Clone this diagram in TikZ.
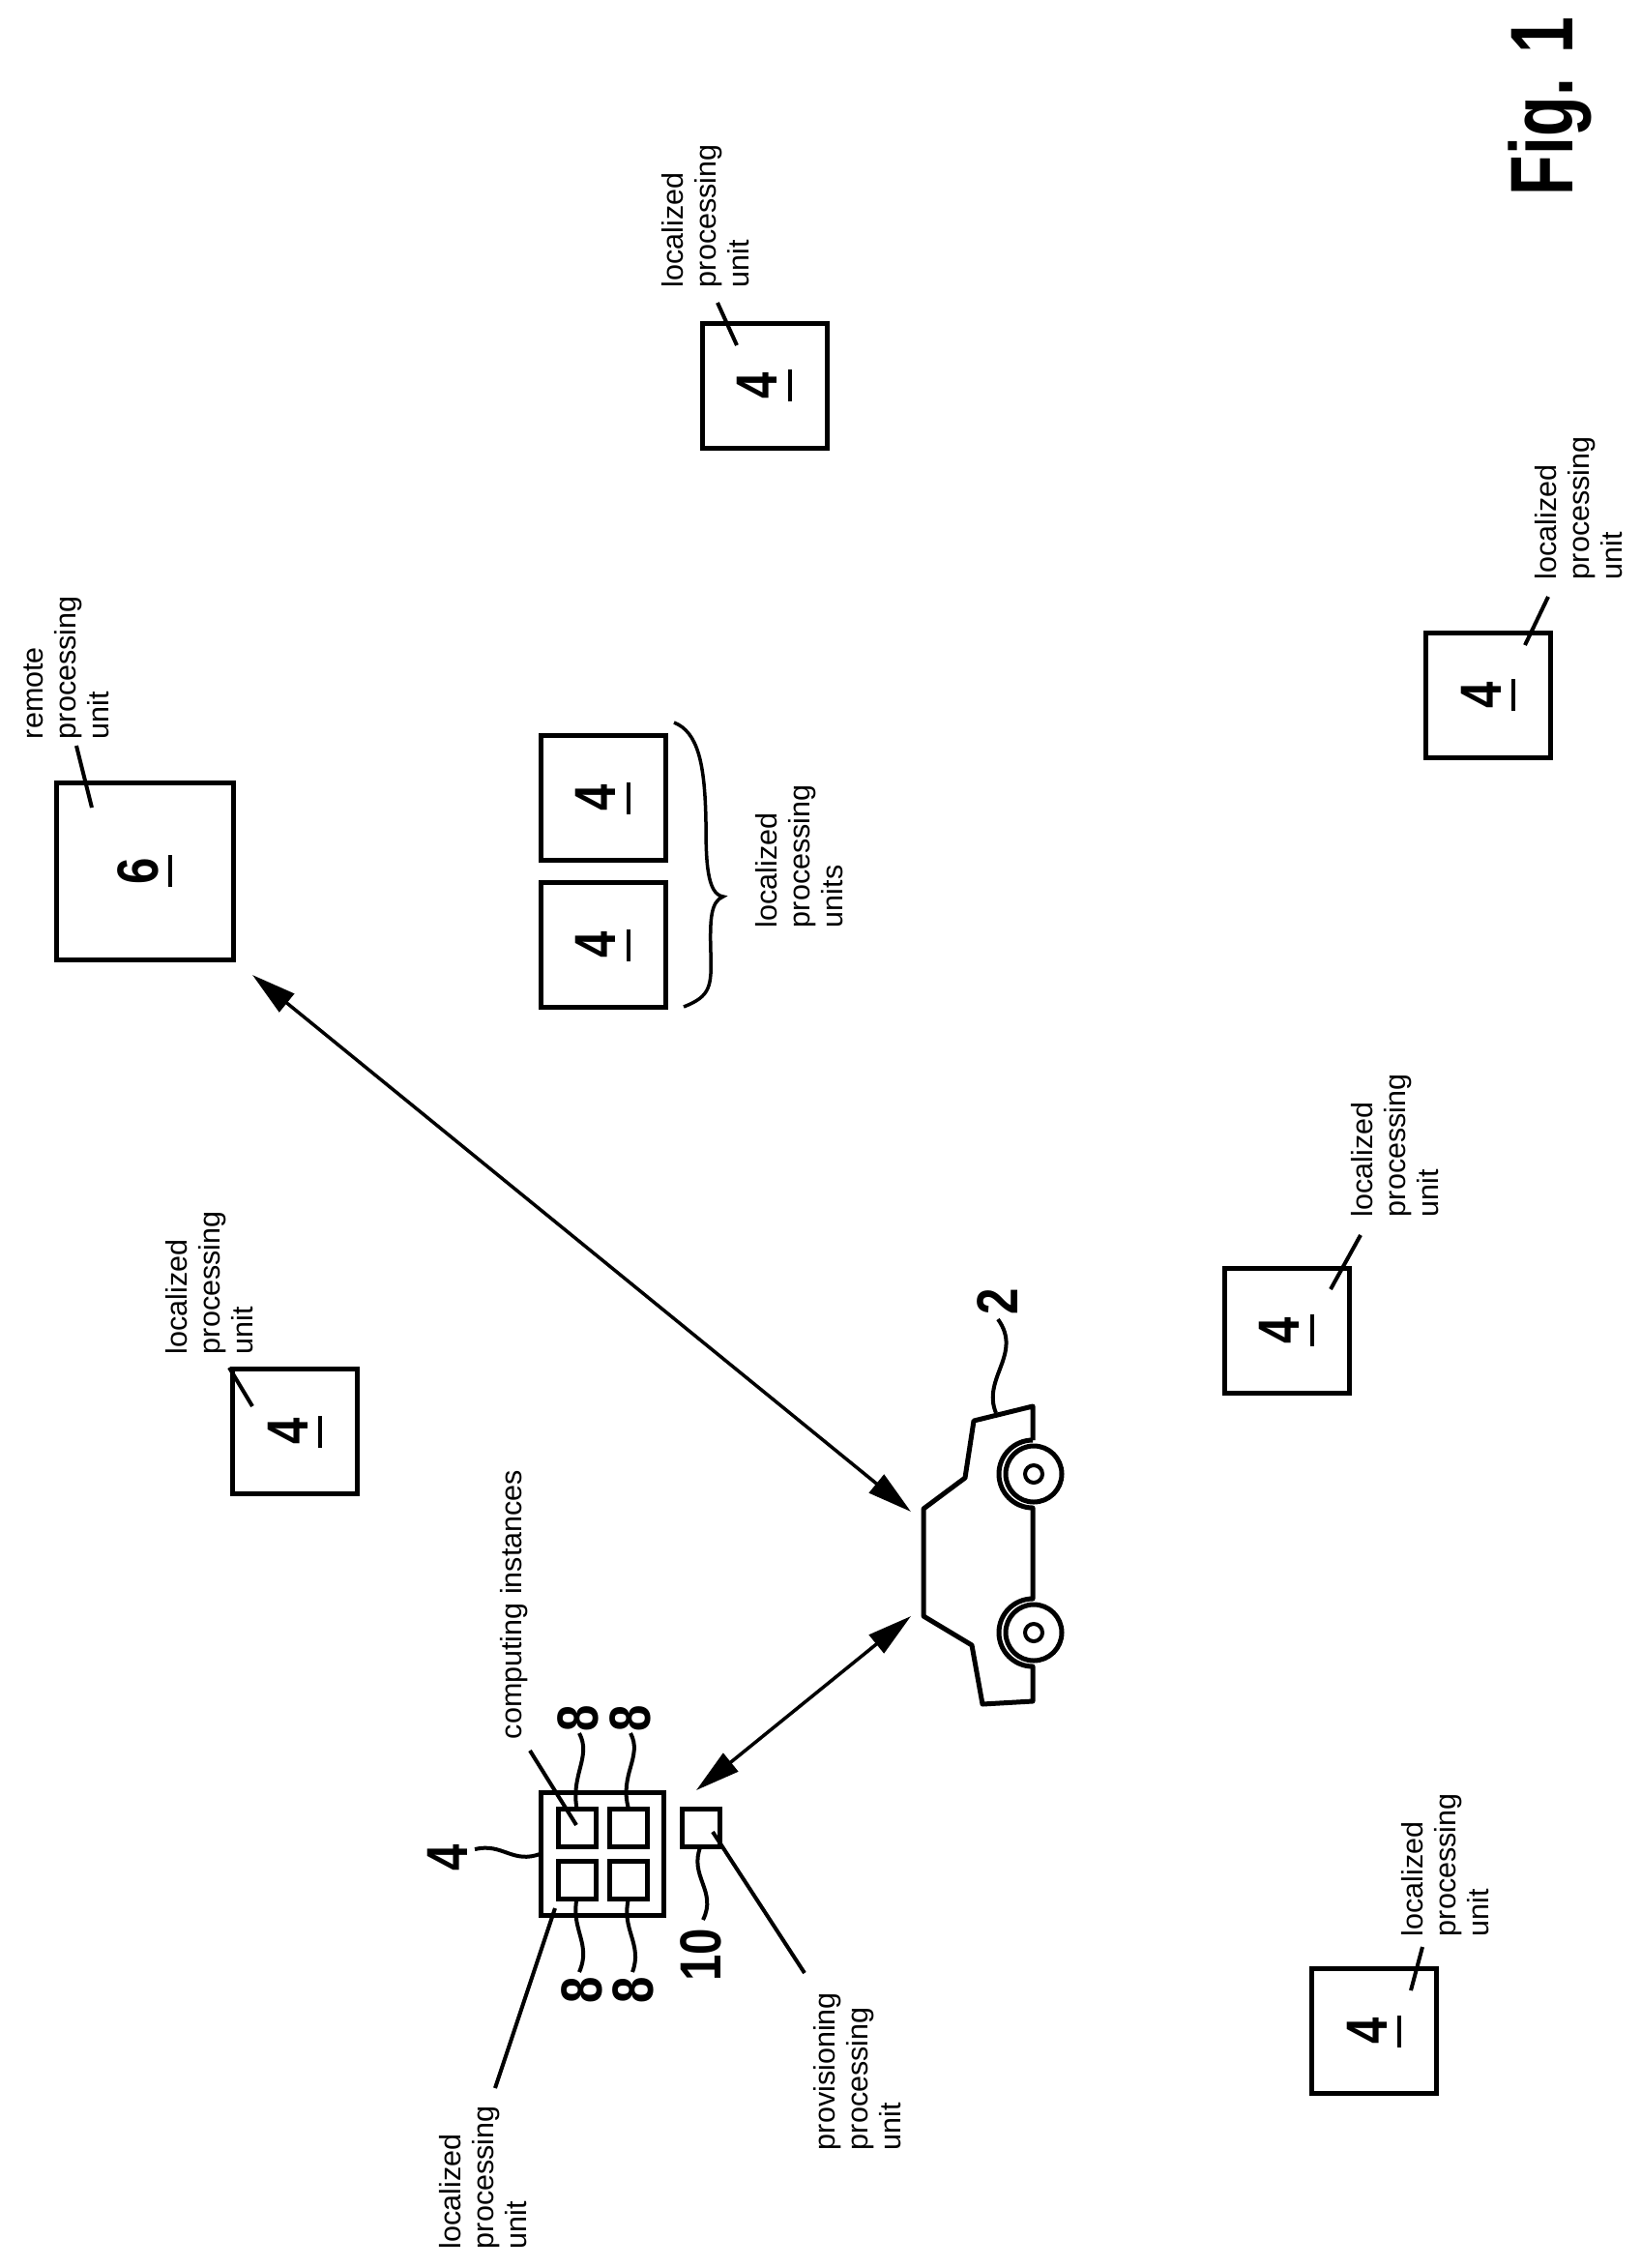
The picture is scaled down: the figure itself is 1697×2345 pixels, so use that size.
\documentclass[tikz,border=0pt]{standalone}
\usepackage{graphicx}
\usepackage{fontspec}
\setmainfont{Liberation Sans}
\usetikzlibrary{arrows.meta}
\newcommand{\ulnum}[1]{\rlap{\rule[-15pt]{33pt}{4pt}}\makebox[33pt]{\scalebox{.82}[1]{\bfseries #1}}}
\newcommand{\refnum}[1]{\scalebox{.82}[1]{\bfseries #1}}
\tikzset{
  unitbox/.style={draw, line width=5pt, minimum size=129pt, inner sep=0pt, outer sep=0pt, rotate=90,
    font=\fontsize{60}{66}\selectfont},
  cellbox/.style={draw, line width=5pt, minimum size=39pt, inner sep=0pt, outer sep=0pt},
  reftext/.style={rotate=90, anchor=north west, align=left, inner sep=0pt, outer sep=0pt,
    font=\fontsize{30.5}{34}\selectfont},
  refnumber/.style={rotate=90, inner sep=0pt, outer sep=0pt, font=\fontsize{60}{66}\selectfont},
  leader/.style={line width=4pt},
  link/.style={line width=3.5pt, {Triangle[length=46pt,width=24pt]}-{Triangle[length=46pt,width=24pt]}},
}

\begin{document}
\begin{tikzpicture}[x=1pt,y=-1pt]
  \useasboundingbox (0,0) rectangle (1697,2345);

  % localized processing units around the car
  \foreach \name/\x/\y in {unitA/790.5/398.5, unitB/1539/718.5, unitC/623.5/825, unitD/623.5/977,
                           unitE/305/1480, unitF/1330.5/1375.5, unitG/1421/2100}
    \node[unitbox] (\name) at (\x,\y) {\ulnum{4}};

  % labels of the single units, with a short leader
  \foreach \name/\tx/\ty/\ax/\ay/\bx/\by in {A/684/297/742/313/762/357, B/1587/599/1601/617/1577/667,
                                             E/171/1400/237/1414/261/1454, F/1397/1258/1407/1277/1376/1333,
                                             G/1449/2002/1471/2013/1459/2058}
  {
    \node[reftext] (text\name) at (\tx,\ty) {localized\\processing\\unit};
    \coordinate (from\name) at (\ax,\ay);
    \coordinate (to\name) at (\bx,\by);
    \draw[leader] (from\name) -- (to\name);
  }

  % remote processing unit
  \node[unitbox, minimum size=183pt] (remote) at (150,900.5) {\ulnum{6}};
  \node[reftext] (textremote) at (25,764) {remote\\processing\\unit};
  \coordinate (fromremote) at (79,771);
  \coordinate (toremote) at (95,835);
  \draw[leader] (fromremote) -- (toremote);

  % the two units with the brace
  \node[reftext] (textpair) at (781,959) {localized\\processing\\units};
  \draw[line width=3.5pt] (697,747) .. controls (722,757) and (729,790) .. (730,850)
    .. controls (730,890) and (731,925) .. (748,927)
    .. controls (735,932) and (734,950) .. (735,985)
    .. controls (736,1020) and (735,1030) .. (707,1041);

  % unit with its computing instances
  \node[cellbox, minimum size=127pt] (unitmain) at (623,1916.5) {};
  \node[cellbox] (cellA) at (596.5,1889.5) {};
  \node[cellbox] (cellB) at (650,1889.5) {};
  \node[cellbox] (cellC) at (596.5,1943.5) {};
  \node[cellbox] (cellD) at (650,1943.5) {};
  \node[cellbox] (prov) at (724.5,1889.5) {};

  % reference numbers
  \node[refnumber] (numA) at (598,1777) {\refnum{8}};
  \node[refnumber] (numB) at (652,1777) {\refnum{8}};
  \node[refnumber] (numC) at (601.5,2058) {\refnum{8}};
  \node[refnumber] (numD) at (655,2058) {\refnum{8}};
  \node[refnumber] (nummain) at (463,1921) {\refnum{4}};
  \node[refnumber] (numprov) at (725,2021) {\refnum{10}};
  \node[refnumber] (numcar) at (1032,1346) {\refnum{2}};

  % wavy leaders
  \draw[leader] (599,1792) .. controls (612,1816) and (590,1835) .. (cellA.north);
  \draw[leader] (652,1792) .. controls (665,1816) and (640,1835) .. (cellB.north);
  \draw[leader] (cellC.south) .. controls (590,1995) and (612,2010) .. (599,2039);
  \draw[leader] (cellD.south) .. controls (642,1995) and (665,2010) .. (654,2039);
  \draw[leader] (491,1912) .. controls (520,1905) and (530,1928) .. (unitmain.west);
  \draw[leader] (prov.south) .. controls (712,1940) and (742,1955) .. (727,1985);
  \draw[leader] (1032,1364) .. controls (1058,1400) and (1015,1425) .. (1030,1461);

  % straight leaders of the main group
  \node[reftext] (textinst) at (517,1798) {computing instances};
  \coordinate (frominst) at (548,1810);
  \coordinate (toinst) at (596,1887);
  \draw[leader] (frominst) -- (toinst);

  \node[reftext] (textmain) at (454,2325) {localized\\processing\\unit};
  \coordinate (frommain) at (512,2159);
  \coordinate (tomain) at (574,1973);
  \draw[leader] (frommain) -- (tomain);

  \node[reftext] (textprov) at (841,2223) {provisioning\\processing\\unit};
  \coordinate (fromprov) at (832,2040);
  \coordinate (toprov) at (737,1894);
  \draw[leader] (fromprov) -- (toprov);

  % car
  \draw[line width=5pt, line join=round] (1068,1489) -- (1068,1454) -- (1007,1469) -- (998,1528)
    -- (955,1560) -- (955,1671) -- (1005,1701) -- (1016,1762) -- (1068,1759) -- (1068,1723)
    arc[start angle=90, end angle=270, radius=35] -- (1068,1559)
    arc[start angle=90, end angle=270, radius=35];
  \foreach \y in {1524,1688}
  {
    \draw[line width=5pt] (1069,\y) circle[radius=29];
    \draw[line width=4pt] (1069,\y) circle[radius=9];
  }

  % links
  \coordinate (endremote) at (261,1008);
  \coordinate (endcarA) at (942,1563);
  \coordinate (endcarB) at (942,1671);
  \coordinate (endunit) at (720,1851);
  \draw[link] (endremote) -- (endcarA);
  \draw[link] (endunit) -- (endcarB);

  % figure label
  \node[rotate=90, inner sep=0pt, outer sep=0pt, anchor=center, font=\fontsize{92}{100}\selectfont\bfseries] (figlabel) at (1603,110) {\scalebox{.74}[1]{Fig. 1}};
\end{tikzpicture}
\end{document}
